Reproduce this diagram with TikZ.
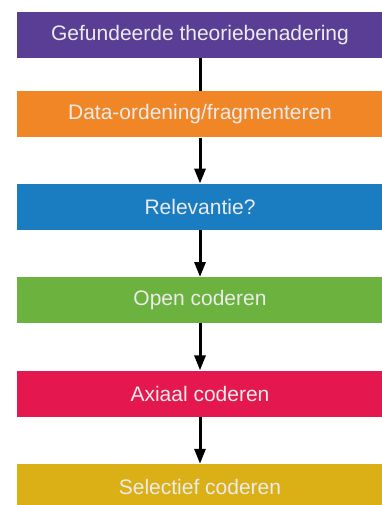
\documentclass[tikz,border=0pt]{standalone}
\usepackage{fontspec}
\setmainfont{Liberation Sans}
\usetikzlibrary{positioning,arrows.meta}
\definecolor{paars}{RGB}{90,62,150}
\definecolor{oranje}{RGB}{240,134,38}
\definecolor{blauw}{RGB}{26,125,194}
\definecolor{groen}{RGB}{108,178,62}
\definecolor{rood}{RGB}{228,24,78}
\definecolor{geel}{RGB}{218,176,22}
\begin{document}
\begin{tikzpicture}[x=1pt,y=1pt]
       \tikzstyle{stapnode}=[minimum width=366pt, minimum height=46pt, inner sep=0pt, text=white!92!black, font=\fontsize{21}{24}\selectfont]
       \tikzstyle{pijl}=[line width=3pt, -{Triangle[length=15pt,width=11pt]}]
       \useasboundingbox (0,0) rectangle (382,-505);
       \clip (0,0) rectangle (382,-505);
       \node[stapnode, fill=paars] (gt) at (200,-35) {Gefundeerde theoriebenadering};
       \node[stapnode, fill=oranje, below=33pt of gt] (data) {Data-ordening/fragmenteren};
       \node[stapnode, fill=blauw, below=46pt of data] (rel) {Relevantie?};
       \node[stapnode, fill=groen, below=47pt of rel] (open) {Open coderen};
       \node[stapnode, fill=rood, below=47pt of open] (axiaal) {Axiaal coderen};
       \node[stapnode, fill=geel, below=47pt of axiaal] (selectief) {Selectief coderen};
       \draw[line width=3pt] (gt) -- (data);
       \draw[pijl] (data) -- (rel);
       \draw[pijl] (rel) -- (open);
       \draw[pijl] (open) -- (axiaal);
       \draw[pijl] (axiaal) -- (selectief);
\end{tikzpicture}
\end{document}
